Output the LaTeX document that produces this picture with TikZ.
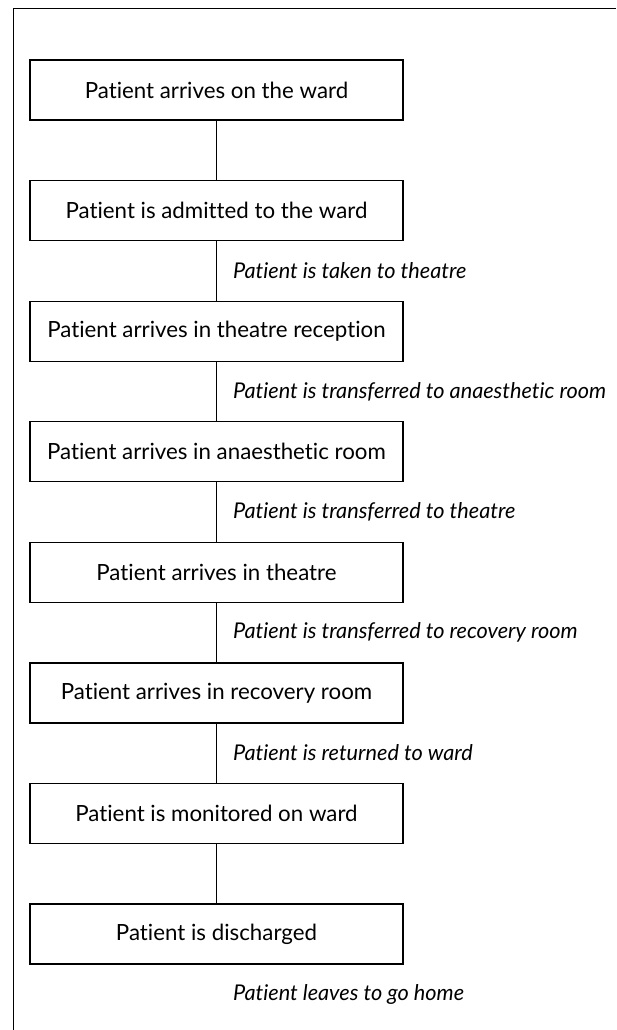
\documentclass[tikz,border=0pt]{standalone}
\usepackage{fontspec}
\setmainfont{Lato}[Ligatures={NoCommon}]
\begin{document}
\begin{tikzpicture}[x=1pt,y=-1pt,
  stepbox/.style={draw, line width=1.2pt, minimum width=373pt, minimum height=60pt,
    inner sep=0pt, font=\fontsize{22.3}{26}\selectfont},
  link/.style={line width=1.1pt},
  steplabel/.style={anchor=west, inner sep=0pt, font=\fontsize{21.7}{25}\selectfont\itshape}]
  \useasboundingbox (0,0) rectangle (616,1030);
  % open frame: left and top sides only
  \draw[line width=1.3pt] (13.7,1030) -- (13.7,8.5) -- (616,8.5);

  \node[stepbox] (s1) at (216.5,90)    {Patient arrives on the ward};
  \node[stepbox] (s2) at (216.5,210.6) {Patient is admitted to the ward};
  \node[stepbox] (s3) at (216.5,331.1) {Patient arrives in theatre reception};
  \node[stepbox] (s4) at (216.5,451.7) {Patient arrives in anaesthetic room};
  \node[stepbox] (s5) at (216.5,572.3) {Patient arrives in theatre};
  \node[stepbox] (s6) at (216.5,693)   {Patient arrives in recovery room};
  \node[stepbox] (s7) at (216.5,813.6) {Patient is monitored on ward};
  \node[stepbox] (s8) at (216.5,934)   {Patient is discharged};

  \foreach \a/\b in {s1/s2,s2/s3,s3/s4,s4/s5,s5/s6,s6/s7,s7/s8}
    \draw[link] (\a.south) -- (\b.north);

  \node[steplabel] (t1) at (233,271)   {Patient is taken to theatre};
  \node[steplabel] (t2) at (233,391.5) {Patient is transferred to anaesthetic room};
  \node[steplabel] (t3) at (233,512)   {Patient is transferred to theatre};
  \node[steplabel] (t4) at (233,632.5) {Patient is transferred to recovery room};
  \node[steplabel] (t5) at (233,753)   {Patient is returned to ward};
  \node[steplabel] (t6) at (233,994)   {Patient leaves to go home};
\end{tikzpicture}
\end{document}
